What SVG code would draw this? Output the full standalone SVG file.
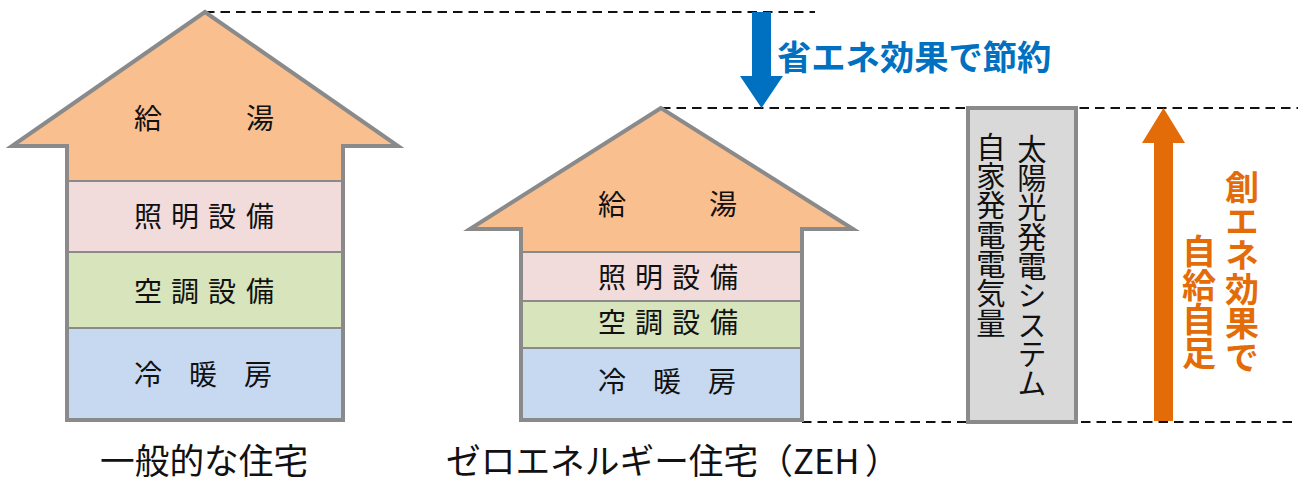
<svg xmlns="http://www.w3.org/2000/svg" width="1298" height="480" viewBox="0 0 1298 480">
<style>
text{font-family:"Noto Sans CJK JP","Noto Sans",sans-serif;fill:#111}
.l{font-size:28px}
.c{font-size:34.700px}
.v{font-size:29.300px;writing-mode:vertical-rl}
.b{font-size:34.300px;font-weight:700;fill:#0070C0}
.o{font-size:34px;font-weight:700;fill:#E36C09;writing-mode:vertical-rl}
.s{stroke:#8a8a8a;stroke-width:4;fill:none}
.d{stroke:#8a8a8a;stroke-width:2;fill:none}
.g{stroke:#111;stroke-width:2;stroke-dasharray:9.5 6;fill:none}
</style>
<g id="connectors">
<path class="g" d="M205 12H815"/>
<path class="g" d="M661 108H1298"/>
<path class="g" d="M802 422H1298"/>
<path id="saving-arrow" fill="#0070C0" d="M752 12H771V76H783L761.500 108L740 76H752Z"/>
<path id="creation-arrow" fill="#E36C09" d="M1154 421V143H1142L1163.500 108L1185 143H1173V421Z"/>
</g>
<g id="house-general">
<path fill="#F9BF8F" d="M205 12L12 146H67V181H343V146H398Z"/>
<rect x="67" y="181" width="276" height="71" fill="#F2DCDB"/>
<rect x="67" y="252" width="276" height="76" fill="#D7E4BC"/>
<rect x="67" y="328" width="276" height="92" fill="#C6D9F0"/>
<path class="d" d="M67 181H343M67 252H343M67 328H343"/>
<path class="s" d="M205 12L12 146H67V420H343V146H398Z"/>
<text class="l" x="134 246" y="129">給湯</text>
<text class="l" x="134 171 208 246" y="227">照明設備</text>
<text class="l" x="134 171 208 246" y="302">空調設備</text>
<text class="l" x="134 189 244" y="385">冷暖房</text>
<text class="c" x="100" y="474">一般的な住宅</text>
</g>
<g id="house-zeh">
<path fill="#F9BF8F" d="M661 108L470 229H521V252H802V229H853Z"/>
<rect x="521" y="252" width="281" height="49" fill="#F2DCDB"/>
<rect x="521" y="301" width="281" height="47" fill="#D7E4BC"/>
<rect x="521" y="348" width="281" height="72" fill="#C6D9F0"/>
<path class="d" d="M521 252H802M521 301H802M521 348H802"/>
<path class="s" d="M661 108L470 229H521V420H802V229H853Z"/>
<text class="l" x="598 709" y="215">給湯</text>
<text class="l" x="598 635 672 710" y="288">照明設備</text>
<text class="l" x="598 635 672 710" y="333">空調設備</text>
<text class="l" x="598 653 708" y="392">冷暖房</text>
<text class="c" x="446" y="474">ゼロエネルギー住宅（<tspan x="793">ZEH</tspan><tspan x="865">）</tspan></text>
</g>
<g id="solar-box">
<rect x="968" y="108" width="108" height="314" fill="#D9D9D9" stroke="#8a8a8a" stroke-width="4"/>
<text class="v" x="1032" y="134">太陽光発電システム</text>
<text class="v" x="991" y="132">自家発電電気量</text>
</g>
<g id="labels">
<text class="b" x="777" y="70">省エネ効果で節約</text>
<text class="o" x="1242" y="170">創エネ効果で</text>
<text class="o" x="1199" y="234">自給自足</text>
</g>
</svg>
